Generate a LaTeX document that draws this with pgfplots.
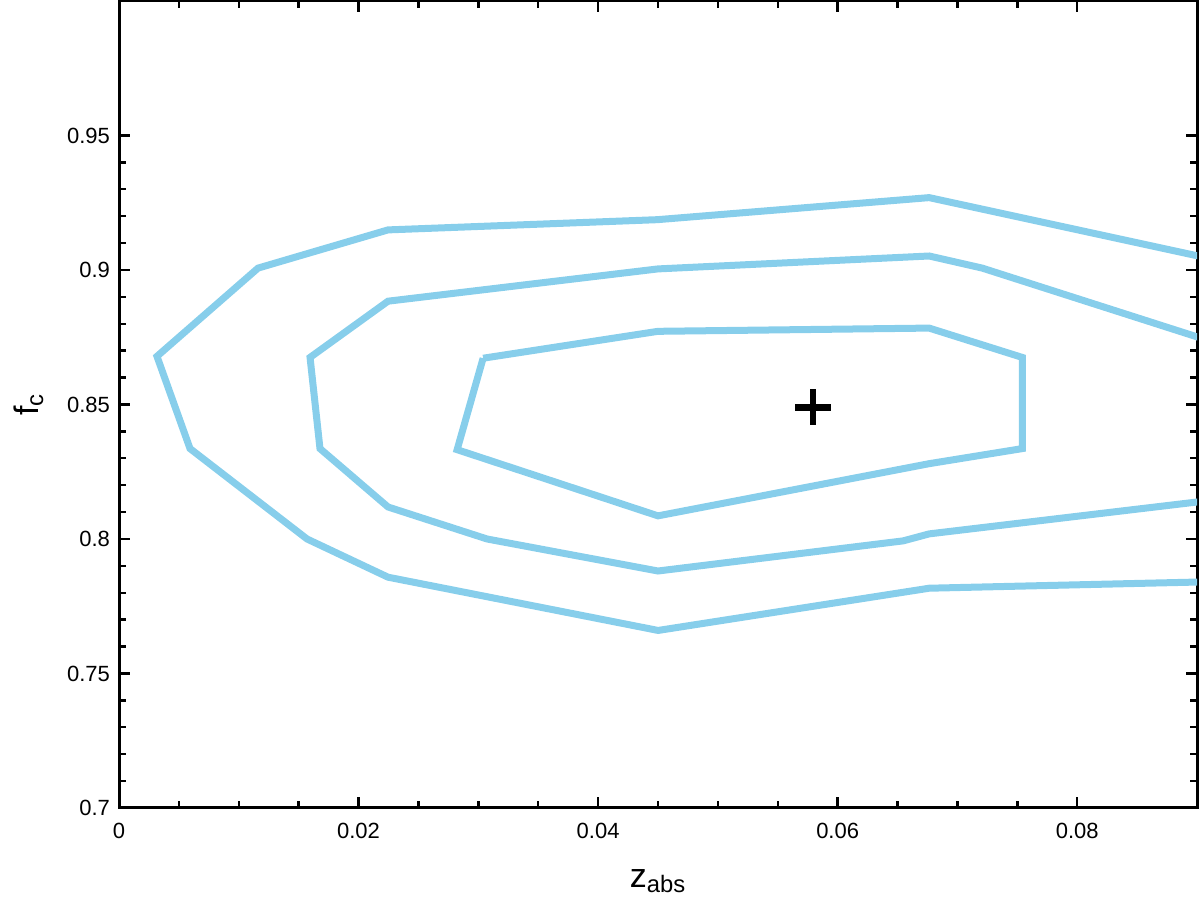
\documentclass[border=0pt]{standalone}
\usepackage{pgfplots}
\pgfplotsset{compat=1.18}
\usepackage{fontspec}
\setmainfont{Liberation Sans}
\definecolor{cont}{RGB}{135,206,235}
\begin{document}
\begin{tikzpicture}
\begin{axis}[
  scale only axis,
  width=539pt, height=403.5pt,
  xmin=0, xmax=0.09, ymin=0.7, ymax=1.0,
  axis line style={line width=1.5pt},
  tick align=inside,
  tick pos=both,
  major tick length=5.5pt, minor tick length=3.5pt,
  every tick/.style={black, line width=1.2pt},
  xtick={0,0.02,0.04,0.06,0.08},
  xticklabels={0,0.02,0.04,0.06,0.08},
  ytick={0.7,0.75,0.8,0.85,0.9,0.95},
  yticklabels={0.7,0.75,0.8,0.85,0.9,0.95},
  minor x tick num=3,
  minor y tick num=4,
  scaled ticks=false,
  /pgf/number format/assume math mode=true,
  tick label style={font=\fontsize{11}{13}\selectfont},
  xticklabel style={yshift=-4pt},
  yticklabel style={xshift=-1pt},
  xlabel={z\textsubscript{abs}},
  ylabel={f\textsubscript{c}},
  label style={font=\fontsize{17}{20}\selectfont},
  xlabel style={at={(axis description cs:0.5,-0.091)}, anchor=center},
  ylabel style={at={(axis description cs:-0.084,0.5)}, anchor=center, rotate=0},
  clip=true,
]
\coordinate (ll) at (rel axis cs:0,0);
\coordinate (ur) at (rel axis cs:1,1);
% outer contour
\addplot[cont, line width=3.5pt, no marks] coordinates {
(0.0901,0.9052) (0.06764,0.9269) (0.04493,0.9187) (0.02246,0.9149)
(0.01161,0.9007) (0.00317,0.8679) (0.00593,0.8336) (0.0157,0.8000)
(0.02246,0.7858) (0.04501,0.7660) (0.06764,0.7817) (0.0901,0.7840)
};
% middle contour
\addplot[cont, line width=3.5pt, no marks] coordinates {
(0.0901,0.8750) (0.07207,0.9007) (0.06764,0.9052) (0.04500,0.9004)
(0.02246,0.8884) (0.01595,0.8675) (0.01678,0.8336) (0.02246,0.8119)
(0.03073,0.8000) (0.04500,0.7881) (0.06547,0.7993) (0.06764,0.8019)
(0.0901,0.8138)
};
% inner contour
\addplot[cont, line width=3.5pt, no marks] coordinates {
(0.0304,0.8672) (0.04500,0.8772) (0.06764,0.8784) (0.07541,0.8675)
(0.07541,0.8336) (0.06764,0.8280) (0.04500,0.8086) (0.02823,0.8332)
(0.0304,0.8672)
};
% best fit
\addplot[black, only marks, mark=+, mark size=9pt, mark options={line width=3.3pt}] coordinates {(0.05795,0.8489)};
\end{axis}
\pgfresetboundingbox
\path[use as bounding box] ([shift={(-59.5pt,-46pt)}]ll) rectangle ([shift={(1.5pt,0.5pt)}]ur);
\end{tikzpicture}
\end{document}
